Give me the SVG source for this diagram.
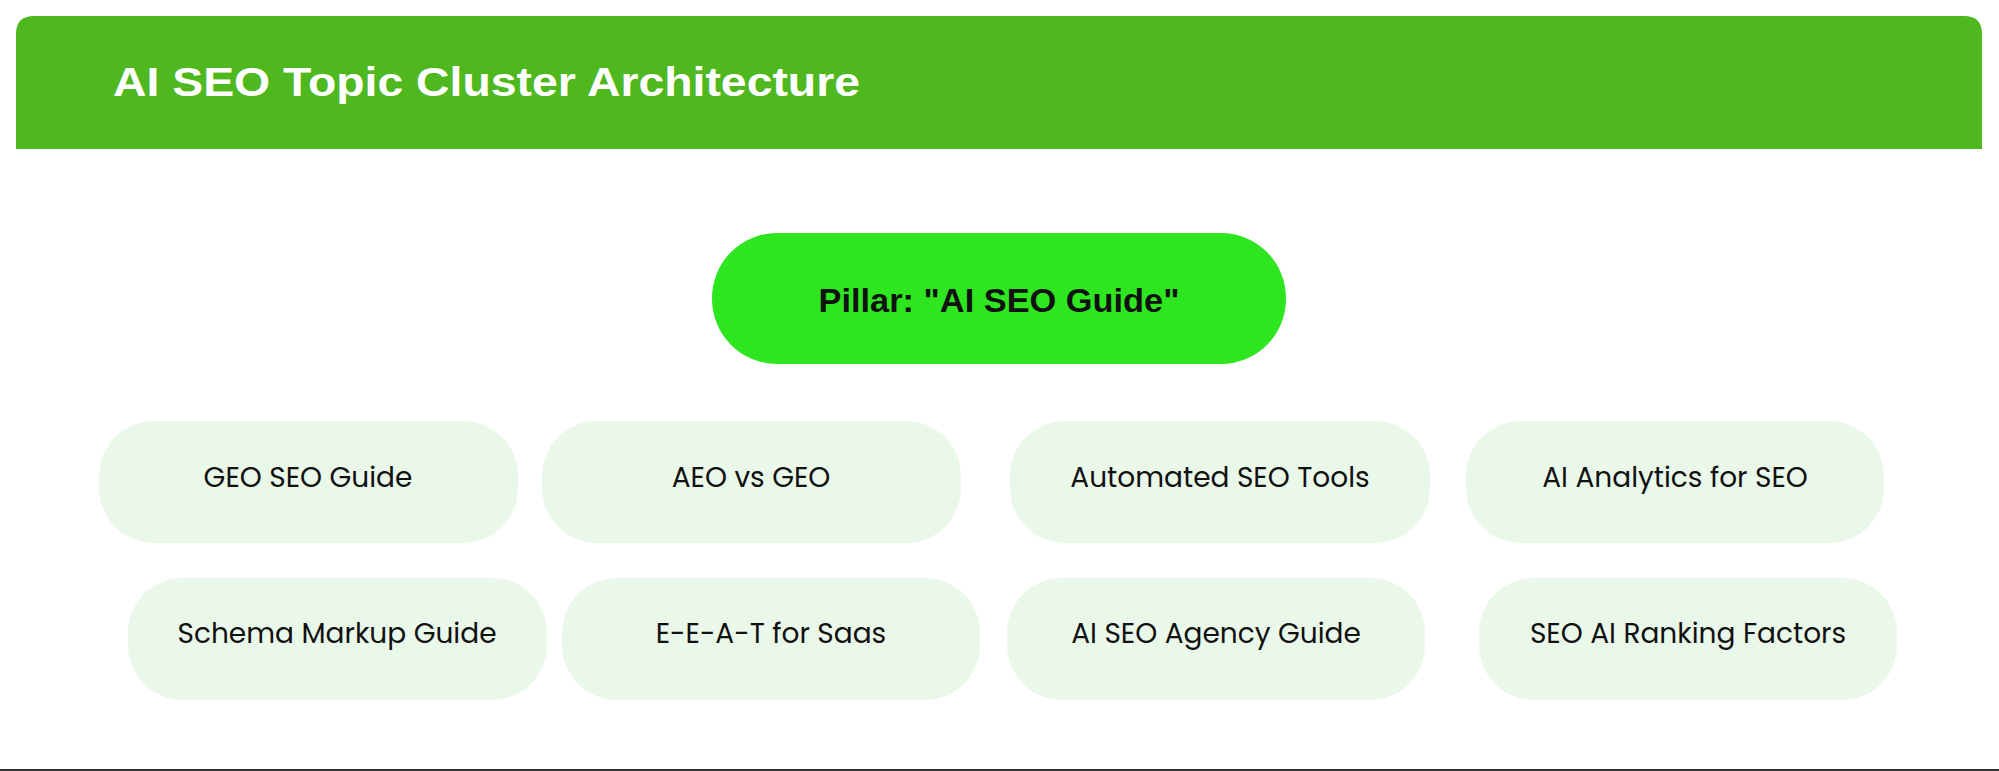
<svg xmlns="http://www.w3.org/2000/svg" width="1999" height="771" viewBox="0 0 1999 771">
<style>
.pill{fill:#eaf8ea}
.lbl{font-family:"Poppins","Liberation Sans",Arial,sans-serif;font-size:28px;fill:#111;text-anchor:middle}
</style>
<rect width="1999" height="771" fill="#fff"/>
<g id="header">
<path d="M16,149 V34 Q16,16 34,16 H1964 Q1982,16 1982,34 V149 Z" fill="#4fb81f"/>
<text x="113" y="96" font-family="Liberation Sans,Arial,sans-serif" font-weight="bold" font-size="40" fill="#fff" textLength="747" lengthAdjust="spacingAndGlyphs">AI SEO Topic Cluster Architecture</text>
</g>
<g id="connectors"/>
<g id="pillar">
<rect x="712" y="233" width="574" height="131" rx="65" fill="#2ee620"/>
<text x="999" y="312" font-family="Liberation Sans,Arial,sans-serif" font-weight="bold" font-size="33" fill="#111" text-anchor="middle" textLength="361" lengthAdjust="spacingAndGlyphs">Pillar: "AI SEO Guide"</text>
</g>
<g id="n1"><rect class="pill" x="99" y="421" width="419" height="122" rx="55"/><text class="lbl" x="308" y="487">GEO SEO Guide</text></g>
<g id="n2"><rect class="pill" x="542" y="421" width="419" height="122" rx="55"/><text class="lbl" x="751" y="487">AEO vs GEO</text></g>
<g id="n3"><rect class="pill" x="1010" y="421" width="420" height="122" rx="55"/><text class="lbl" x="1220" y="487">Automated SEO Tools</text></g>
<g id="n4"><rect class="pill" x="1466" y="421" width="418" height="122" rx="55"/><text class="lbl" x="1675" y="487">AI Analytics for SEO</text></g>
<g id="n5"><rect class="pill" x="128" y="578" width="419" height="122" rx="55"/><text class="lbl" x="337" y="643">Schema Markup Guide</text></g>
<g id="n6"><rect class="pill" x="562" y="578" width="418" height="122" rx="55"/><text class="lbl" x="771" y="643">E-E-A-T for Saas</text></g>
<g id="n7"><rect class="pill" x="1007" y="578" width="418" height="122" rx="55"/><text class="lbl" x="1216" y="643">AI SEO Agency Guide</text></g>
<g id="n8"><rect class="pill" x="1479" y="578" width="418" height="122" rx="55"/><text class="lbl" x="1688" y="643">SEO AI Ranking Factors</text></g>
<line x1="0" y1="770" x2="1999" y2="770" stroke="#333" stroke-width="2"/>
</svg>
